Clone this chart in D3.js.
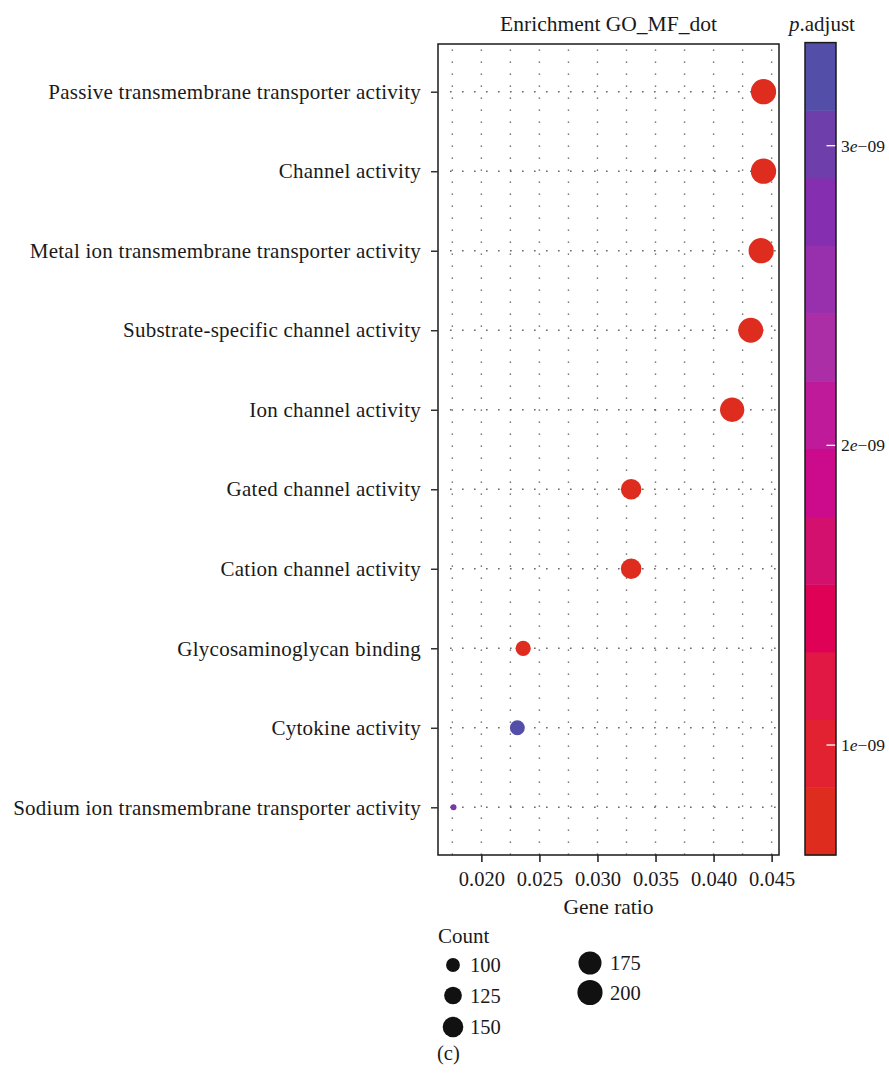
<!DOCTYPE html>
<html>
<head>
<meta charset="utf-8">
<script src="https://cdn.jsdelivr.net/npm/d3@7"></script>
<style>
  html, body { margin: 0; padding: 0; background: #fff; }
  svg { display: block; font-family: "Liberation Serif", "DejaVu Serif", serif; }
</style>
</head>
<body>
<svg id="chart" width="889" height="1076"></svg>
<script>
// GO molecular function enrichment, dot plot
const categories = [
  "Passive transmembrane transporter activity",
  "Channel activity",
  "Metal ion transmembrane transporter activity",
  "Substrate-specific channel activity",
  "Ion channel activity",
  "Gated channel activity",
  "Cation channel activity",
  "Glycosaminoglycan binding",
  "Cytokine activity",
  "Sodium ion transmembrane transporter activity"
];
const geneRatio = [0.0443, 0.0443, 0.0441, 0.0432, 0.0416, 0.0329, 0.0329, 0.0236, 0.0231, 0.0176];
const counts    = [202, 202, 201, 197, 190, 150, 150, 108, 106, 80];
const pAdjust   = [6.33e-10, 6.35e-10, 6.4e-10, 6.5e-10, 6.6e-10, 7.0e-10, 7.0e-10, 7.4e-10, 3.344e-9, 2.9e-9];

const xTicks = [0.020, 0.025, 0.030, 0.035, 0.040, 0.045];
const xGrid = [0.0175, 0.020, 0.0225, 0.025, 0.0275, 0.030, 0.0325, 0.035, 0.0375, 0.040, 0.0425, 0.045];
const colorTicks = [1e-9, 2e-9, 3e-9];
const colorTickLabels = ["1", "2", "3"];
const sizeBreaks = [100, 125, 150, 175, 200];
// colour bar bands, low p.adjust (red) to high (blue)
const bandColors = ["#DE2C1E", "#E22230", "#E21844", "#DF0155", "#D3106E", "#CB0A8C",
                    "#BE1A9A", "#AC2EA6", "#9830AE", "#852EB0", "#6E3EAA", "#534EA8"];

const svg = d3.select("#chart");
const panel = { left: 438, right: 779, top: 44, bottom: 855 };
const ink = "#1a1a1a";

// scales
const [xMin, xMax] = d3.extent(geneRatio);
const xPad = (xMax - xMin) * 0.05;
const x = d3.scaleLinear().domain([xMin - xPad, xMax + xPad]).range([panel.left, panel.right]);
const y = d3.scalePoint().domain(categories).range([panel.top, panel.bottom]).padding(0.6);

const [pMin, pMax] = d3.extent(pAdjust);
const bar = { left: 805, right: 836, top: 42.6, bottom: 855 };
const pY = d3.scaleLinear().domain([pMin, pMax]).range([bar.bottom, bar.top]);
const bandStep = (pMax - pMin) / bandColors.length;
const bandCenters = bandColors.map((_, i) => pMin + (i + 0.5) * bandStep);
const color = d3.scaleLinear().domain(bandCenters).range(bandColors).clamp(true);
const bandScale = d3.scaleQuantize().domain([pMin, pMax]).range(bandColors);

const [cMin, cMax] = d3.extent(counts);
const sizeT = d3.scaleLinear().domain([cMin, cMax]).range([0, 1]);
const diam = d3.scaleLinear().domain([0, 1]).range([6, 25.3]);
const radius = c => diam(Math.sqrt(Math.max(0, sizeT(c)))) / 2;

// grid: dotted verticals at every 0.0025, dotted horizontals at each term
const grid = svg.append("g");
grid.selectAll("line.v").data(xGrid).join("line")
  .attr("x1", d => x(d)).attr("x2", d => x(d))
  .attr("y1", panel.top + 5.5).attr("y2", panel.bottom)
  .attr("stroke", "#555").attr("stroke-width", 1.4)
  .attr("stroke-dasharray", "1.3 10.7");
grid.selectAll("line.h").data(categories).join("line")
  .attr("x1", panel.left + 12.2).attr("x2", panel.right)
  .attr("y1", d => y(d)).attr("y2", d => y(d))
  .attr("stroke", "#444").attr("stroke-width", 1.4)
  .attr("stroke-dasharray", "1.3 10.7");

// points
svg.append("g").selectAll("circle").data(categories).join("circle")
  .attr("cx", (d, i) => x(geneRatio[i]))
  .attr("cy", d => y(d))
  .attr("r", (d, i) => radius(counts[i]))
  .attr("fill", (d, i) => color(pAdjust[i]));

// panel border
svg.append("rect")
  .attr("x", panel.left).attr("y", panel.top)
  .attr("width", panel.right - panel.left).attr("height", panel.bottom - panel.top)
  .attr("fill", "none").attr("stroke", ink).attr("stroke-width", 1.5);

// axes
const xAxis = svg.append("g").attr("transform", `translate(0,${panel.bottom})`)
  .call(d3.axisBottom(x).tickValues(xTicks).tickFormat(d3.format(".3f")).tickSize(7).tickPadding(9));
xAxis.select(".domain").remove();
xAxis.selectAll("line").attr("stroke", ink).attr("stroke-width", 1.5);
xAxis.selectAll("text").attr("fill", ink).style("font-size", "20.5px")
  .style("font-family", "'Liberation Serif', serif");

const yAxis = svg.append("g").attr("transform", `translate(${panel.left},0)`)
  .call(d3.axisLeft(y).tickSize(7).tickPadding(10));
yAxis.select(".domain").remove();
yAxis.selectAll("line").attr("stroke", "#333").attr("stroke-width", 1.5);
yAxis.selectAll("text").attr("fill", ink).style("font-size", "21px")
  .style("letter-spacing", "0.25px")
  .style("font-family", "'Liberation Serif', serif");

// titles
svg.append("text").attr("x", (panel.left + panel.right) / 2).attr("y", 31)
  .attr("text-anchor", "middle").attr("fill", ink).style("font-size", "21.5px")
  .text("Enrichment GO_MF_dot");
svg.append("text").attr("x", (panel.left + panel.right) / 2).attr("y", 914)
  .attr("text-anchor", "middle").attr("fill", ink).style("font-size", "21.5px")
  .text("Gene ratio");

// colour bar
const pTitle = svg.append("text").attr("x", 789).attr("y", 31).attr("fill", ink).style("font-size", "21px");
pTitle.append("tspan").style("font-style", "italic").text("p");
pTitle.append("tspan").text(".adjust");

svg.append("g").selectAll("rect").data(bandColors).join("rect")
  .attr("x", bar.left).attr("width", bar.right - bar.left)
  .attr("y", (d, i) => pY(pMin + (i + 1) * bandStep))
  .attr("height", (d, i) => pY(pMin + i * bandStep) - pY(pMin + (i + 1) * bandStep) + 0.5)
  .attr("fill", (d, i) => bandScale(pMin + (i + 0.5) * bandStep));
svg.append("g").selectAll("line").data(colorTicks).join("line")
  .attr("x1", bar.right - 9.5).attr("x2", bar.right)
  .attr("y1", d => pY(d)).attr("y2", d => pY(d))
  .attr("stroke", "#fff").attr("stroke-width", 1.3);
svg.append("rect")
  .attr("x", bar.left).attr("y", bar.top)
  .attr("width", bar.right - bar.left).attr("height", bar.bottom - bar.top)
  .attr("fill", "none").attr("stroke", ink).attr("stroke-width", 1.5);
const cLabels = svg.append("g").selectAll("text").data(colorTicks).join("text")
  .attr("x", 841).attr("y", d => pY(d)).attr("dy", "0.35em")
  .attr("fill", ink).style("font-size", "17.5px");
cLabels.append("tspan").text((d, i) => colorTickLabels[i]);
cLabels.append("tspan").style("font-style", "italic").text("e");
cLabels.append("tspan").text("\u221209");

// size legend
svg.append("text").attr("x", 438).attr("y", 943).attr("fill", ink).style("font-size", "21px").text("Count");
const legendPos = [
  { cx: 453, cy: 965 }, { cx: 453, cy: 995.5 }, { cx: 453, cy: 1027 },
  { cx: 590, cy: 963 }, { cx: 590, cy: 992.5 }
];
const legend = svg.append("g").selectAll("g").data(sizeBreaks).join("g")
  .attr("transform", (d, i) => `translate(${legendPos[i].cx},${legendPos[i].cy})`);
legend.append("circle").attr("r", d => radius(d)).attr("fill", "#111");
legend.append("text").attr("x", (d, i) => i < 3 ? 17 : 20).attr("dy", "0.35em")
  .attr("fill", ink).style("font-size", "20.5px").text(d => d);

svg.append("text").attr("x", 437).attr("y", 1060).attr("fill", ink).style("font-size", "20.5px").text("(c)");
</script>
</body>
</html>
